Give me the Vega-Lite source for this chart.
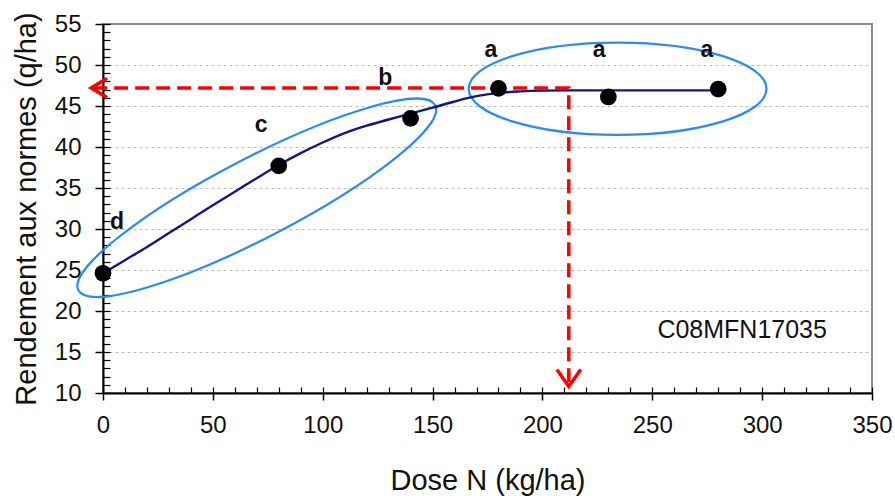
{
  "$schema": "https://vega.github.io/schema/vega-lite/v6.json",
  "width": 769,
  "height": 369,
  "autosize": {"type": "none"},
  "padding": {"left": 103, "top": 24, "right": 23, "bottom": 103},
  "background": "white",
  "view": {"stroke": "#8c8c8c", "strokeWidth": 2},
  "config": {"font": "Liberation Sans"},
  "datasets": {
    "curve": [
      {"dose": 0, "rdt": 24.6}, {"dose": 10, "rdt": 26.2}, {"dose": 20, "rdt": 27.8},
      {"dose": 30, "rdt": 29.5}, {"dose": 40, "rdt": 31.2}, {"dose": 50, "rdt": 32.9},
      {"dose": 60, "rdt": 34.55}, {"dose": 70, "rdt": 36.2}, {"dose": 80, "rdt": 37.8},
      {"dose": 90, "rdt": 39.25}, {"dose": 100, "rdt": 40.55}, {"dose": 110, "rdt": 41.7},
      {"dose": 120, "rdt": 42.6}, {"dose": 130, "rdt": 43.35}, {"dose": 140, "rdt": 44.07},
      {"dose": 150, "rdt": 44.8}, {"dose": 160, "rdt": 45.55}, {"dose": 170, "rdt": 46.2},
      {"dose": 180, "rdt": 46.6}, {"dose": 190, "rdt": 46.78}, {"dose": 200, "rdt": 46.87},
      {"dose": 212, "rdt": 46.9}, {"dose": 280, "rdt": 46.9}
    ],
    "obs": [
      {"dose": 0, "rdt": 24.6}, {"dose": 80, "rdt": 37.7}, {"dose": 140, "rdt": 43.5},
      {"dose": 180, "rdt": 47.15}, {"dose": 230, "rdt": 46.1}, {"dose": 280, "rdt": 47.05}
    ],
    "red": [
      {"dose": -4.5, "rdt": 47.2, "o": 1}, {"dose": 212, "rdt": 47.2, "o": 2}, {"dose": 212, "rdt": 11.2, "o": 3}
    ],
    "letters": [
      {"dose": 176.6, "rdt": 51.8, "t": "a"}, {"dose": 225.8, "rdt": 51.8, "t": "a"},
      {"dose": 274.9, "rdt": 51.8, "t": "a"}, {"dose": 128.5, "rdt": 48.4, "t": "b"},
      {"dose": 72, "rdt": 42.7, "t": "c"}, {"dose": 6.4, "rdt": 30.9, "t": "d"}
    ]
  },
  "resolve": {"axis": {"x": "independent", "y": "independent"}},
  "layer": [
    {
      "data": {"values": [{"dose": 70, "rdt": 33.8}]},
      "mark": {"type": "point", "shape": "M -1 0 A 1 0.2 0 1 0 1 0 A 1 0.2 0 1 0 -1 0", "size": 161604, "angle": -27.4, "filled": false, "stroke": "#2B8CEE", "strokeWidth": 2.2, "opacity": 1},
      "encoding": {
        "x": {"field": "dose", "type": "quantitative", "scale": {"domain": [0, 350]}, "axis": null},
        "y": {"field": "rdt", "type": "quantitative", "scale": {"domain": [10, 55]}, "axis": null}
      }
    },
    {
      "data": {"values": [{"dose": 234.2, "rdt": 47.1}]},
      "mark": {"type": "point", "shape": "M -1 0 A 1 0.31 0 1 0 1 0 A 1 0.31 0 1 0 -1 0", "size": 88685, "filled": false, "stroke": "#2B8CEE", "strokeWidth": 2.2, "opacity": 1},
      "encoding": {
        "x": {"field": "dose", "type": "quantitative", "axis": null},
        "y": {"field": "rdt", "type": "quantitative", "axis": null}
      }
    },
    {
      "data": {"name": "curve"},
      "mark": {"type": "line", "color": "#15158A", "strokeWidth": 2.4, "interpolate": "monotone"},
      "encoding": {
        "x": {
          "field": "dose", "type": "quantitative",
          "axis": {
            "orient": "bottom", "values": [0, 50, 100, 150, 200, 250, 300, 350],
            "title": "Dose N (kg/ha)", "titleFontSize": 29, "titleFontWeight": "normal", "titleColor": "#111",
            "titlePadding": 29, "labelFontSize": 24, "labelColor": "#111", "labelPadding": 13,
            "tickSize": 7, "tickColor": "#000", "tickWidth": 1.5, "domainColor": "#000", "domainWidth": 2,
            "grid": false, "labelFlush": false, "labelOverlap": false
          }
        },
        "y": {
          "field": "rdt", "type": "quantitative",
          "axis": {
            "orient": "left", "values": [10, 15, 20, 25, 30, 35, 40, 45, 50, 55],
            "title": "Rendement aux normes (q/ha)", "titleFontSize": 29, "titleFontWeight": "normal", "titleColor": "#111",
            "titlePadding": 13, "labelFontSize": 24, "labelColor": "#111", "labelPadding": 14,
            "tickSize": 8, "tickColor": "#000", "tickWidth": 1.5, "domainColor": "#000", "domainWidth": 2,
            "grid": true, "gridDash": [3, 3], "gridColor": "#bdbdbd", "gridWidth": 1,
            "gridOpacity": {"condition": {"test": "datum.value == 10 || datum.value == 55", "value": 0}, "value": 1},
            "labelFlush": false, "labelOverlap": false
          }
        }
      }
    },
    {
      "data": {"name": "red"},
      "mark": {"type": "line", "color": "#FF0000", "strokeWidth": 3.5, "strokeDash": [14, 7], "strokeCap": "butt"},
      "encoding": {
        "x": {"field": "dose", "type": "quantitative", "axis": null},
        "y": {"field": "rdt", "type": "quantitative", "axis": null},
        "order": {"field": "o", "type": "quantitative"}
      }
    },
    {
      "data": {"values": [{"dose": -5.4, "rdt": 47.2}]},
      "mark": {"type": "point", "shape": "M 1 -0.6 L 0 0 L 1 0.6", "size": 1024, "filled": false, "stroke": "#FF0000", "strokeWidth": 3.5, "opacity": 1},
      "encoding": {
        "x": {"field": "dose", "type": "quantitative", "axis": null},
        "y": {"field": "rdt", "type": "quantitative", "axis": null}
      }
    },
    {
      "data": {"values": [{"dose": 212, "rdt": 10.8}]},
      "mark": {"type": "point", "shape": "M -0.7 -1 L 0 0 L 0.7 -1", "size": 1156, "filled": false, "stroke": "#FF0000", "strokeWidth": 3.5, "opacity": 1},
      "encoding": {
        "x": {"field": "dose", "type": "quantitative", "axis": null},
        "y": {"field": "rdt", "type": "quantitative", "axis": null}
      }
    },
    {
      "data": {"name": "obs"},
      "mark": {"type": "point", "filled": true, "color": "#000", "size": 280, "opacity": 1},
      "encoding": {
        "x": {
          "field": "dose", "type": "quantitative",
          "axis": {
            "orient": "bottom",
            "values": [0, 10, 20, 30, 40, 50, 60, 70, 80, 90, 100, 110, 120, 130, 140, 150, 160, 170, 180, 190, 200, 210, 220, 230, 240, 250, 260, 270, 280, 290, 300, 310, 320, 330, 340, 350],
            "title": null, "labels": false, "domain": false, "grid": false,
            "tickSize": -6, "tickColor": "#000", "tickWidth": 1.2
          }
        },
        "y": {
          "field": "rdt", "type": "quantitative",
          "axis": {
            "orient": "left",
            "values": [10, 11, 12, 13, 14, 15, 16, 17, 18, 19, 20, 21, 22, 23, 24, 25, 26, 27, 28, 29, 30, 31, 32, 33, 34, 35, 36, 37, 38, 39, 40, 41, 42, 43, 44, 45, 46, 47, 48, 49, 50, 51, 52, 53, 54, 55],
            "title": null, "labels": false, "domain": false, "grid": false,
            "tickSize": -7, "tickColor": "#000", "tickWidth": 1.2
          }
        }
      }
    },
    {
      "data": {"name": "letters"},
      "mark": {"type": "text", "fontSize": 23, "fontWeight": "bold", "color": "#111", "baseline": "middle", "align": "center"},
      "encoding": {
        "x": {"field": "dose", "type": "quantitative", "axis": null},
        "y": {"field": "rdt", "type": "quantitative", "axis": null},
        "text": {"field": "t"}
      }
    },
    {
      "data": {"values": [{"dose": 290.9, "rdt": 17.64, "t": "C08MFN17035"}]},
      "mark": {"type": "text", "fontSize": 25, "color": "#111", "baseline": "middle", "align": "center"},
      "encoding": {
        "x": {"field": "dose", "type": "quantitative", "axis": null},
        "y": {"field": "rdt", "type": "quantitative", "axis": null},
        "text": {"field": "t"}
      }
    }
  ]
}
